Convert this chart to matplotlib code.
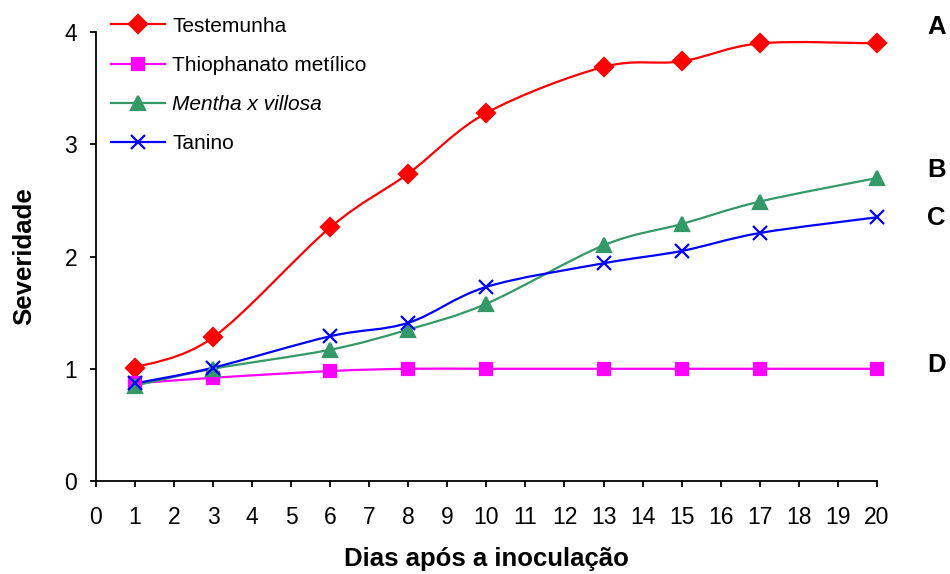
import matplotlib
matplotlib.use("Agg")
import matplotlib.pyplot as plt
import numpy as np
from matplotlib.lines import Line2D
from matplotlib.patches import PathPatch
from matplotlib.path import Path

plt.rcParams["font.family"] = ["Liberation Sans", "DejaVu Sans"]

days = [1, 3, 6, 8, 10, 13, 15, 17, 20]
testemunha = [1.01, 1.28, 2.26, 2.74, 3.28, 3.69, 3.74, 3.90, 3.90]
thiophanato = [0.87, 0.92, 0.98, 1.00, 1.00, 1.00, 1.00, 1.00, 1.00]
mentha = [0.85, 1.00, 1.17, 1.35, 1.58, 2.10, 2.29, 2.49, 2.70]
tanino = [0.87, 1.01, 1.29, 1.41, 1.73, 1.94, 2.05, 2.21, 2.35]

series_names = ["Testemunha", "Thiophanato metílico", "Mentha x villosa", "Tanino"]
letters = ["A", "B", "C", "D"]


def smooth_path(x, y):
    # cubic bezier through every point, spreadsheet-style smoothed line
    pts = np.column_stack([x, y]).astype(float)
    n = len(pts)
    verts = [pts[0]]
    codes = [Path.MOVETO]
    for i in range(n - 1):
        p0 = pts[max(i - 1, 0)]
        p1 = pts[i]
        p2 = pts[i + 1]
        p3 = pts[min(i + 2, n - 1)]
        c1 = p1 + (p2 - p0) / 6.0
        c2 = p2 - (p3 - p1) / 6.0
        verts += [c1, c2, p2]
        codes += [Path.CURVE4] * 3
    return Path(verts, codes)


fig = plt.figure(figsize=(9.5, 5.74), dpi=100)
ax = fig.add_axes([0.101, 0.162, 0.822, 0.782])

styles = [
    dict(color="#FF0000", marker="D", ms=9),
    dict(color="#FF00FF", marker="s", ms=8),
    dict(color="#339966", marker="^", ms=10),
    dict(color="#0000FF", marker="x", ms=10),
]

handles = []
for vals, name, st in zip([testemunha, thiophanato, mentha, tanino], series_names, styles):
    ax.add_patch(PathPatch(smooth_path(days, vals), fill=False,
                           edgecolor=st["color"], lw=1.6))
    ax.plot(days, vals, linestyle="none", marker=st["marker"], ms=st["ms"],
            color=st["color"], mew=1.6, clip_on=False)
    handles.append(Line2D([], [], color=st["color"], lw=1.6, marker=st["marker"],
                          ms=st["ms"], mew=1.6, label=name))

ax.set_xlim(0, 20)
ax.set_ylim(0, 4)
ax.set_xticks(range(0, 21))
ax.set_yticks(range(0, 5))
for side in ["top", "right"]:
    ax.spines[side].set_visible(False)
for side in ["left", "bottom"]:
    ax.spines[side].set_linewidth(1.3)
ax.tick_params(direction="out", length=4.5, width=1.3, labelsize=16.5)
ax.tick_params(axis="x", pad=13.5)
ax.tick_params(axis="y", pad=9)

ax.set_xlabel("Dias após a inoculação", fontsize=18.5, fontweight="bold")
ax.set_ylabel("Severidade", fontsize=18.5, fontweight="bold")
ax.xaxis.set_label_coords(0.5, -0.147)
ax.yaxis.set_label_coords(-0.076, 0.5)

leg = ax.legend(handles=handles, loc="upper left", bbox_to_anchor=(0.0994, 1.0),
                bbox_transform=fig.transFigure, frameon=False, fontsize=15,
                handlelength=2.6, handletextpad=0.34, labelspacing=0.97,
                borderpad=0.3)
leg.get_texts()[2].set_fontstyle("italic")

# group letters at the right-hand end of each curve
letter_y = [27, 170, 218, 365]
for letter, yp in zip(letters, letter_y):
    fig.text(927 / 950, 1 - yp / 574, letter, fontsize=18.5, fontweight="bold",
             ha="left", va="center")

fig.savefig("out.png", dpi=100)
